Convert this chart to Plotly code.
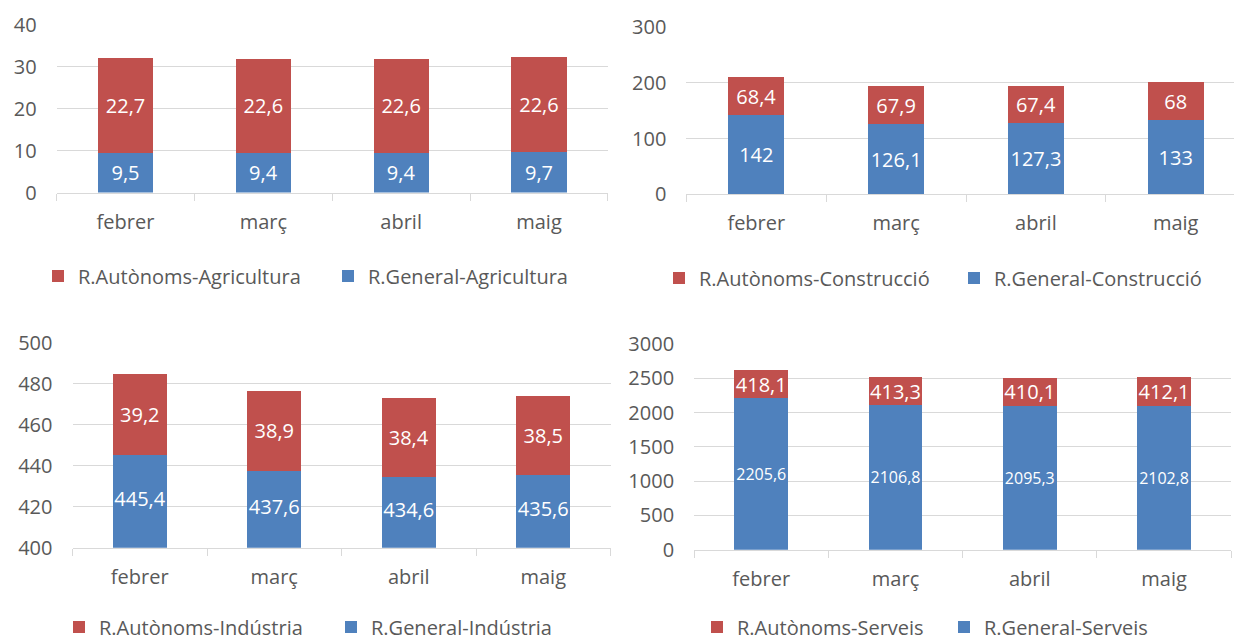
import plotly.graph_objects as go

months = ["febrer", "març", "abril", "maig"]

agr_gen = [9.5, 9.4, 9.4, 9.7]
agr_aut = [22.7, 22.6, 22.6, 22.6]
con_gen = [142, 126.1, 127.3, 133]
con_aut = [68.4, 67.9, 67.4, 68]
ind_gen = [445.4, 437.6, 434.6, 435.6]
ind_aut = [39.2, 38.9, 38.4, 38.5]
ser_gen = [2205.6, 2106.8, 2095.3, 2102.8]
ser_aut = [418.1, 413.3, 410.1, 412.1]

names = [
    ("R.General-Agricultura", "R.Autònoms-Agricultura"),
    ("R.General-Construcció", "R.Autònoms-Construcció"),
    ("R.General-Indústria", "R.Autònoms-Indústria"),
    ("R.General-Serveis", "R.Autònoms-Serveis"),
]

BLUE = "#4F81BD"
RED = "#C0504D"
GREY = "#595959"
GRID = "#D9D9D9"
FONT = "Open Sans"


def fmt(v):
    return f"{v:g}".replace(".", ",")


fig = go.Figure()

panels = [
    (agr_gen, agr_aut, "x", "y", "legend", 20),
    (con_gen, con_aut, "x2", "y2", "legend2", 20),
    (ind_gen, ind_aut, "x3", "y3", "legend3", 20),
    (ser_gen, ser_aut, "x4", "y4", "legend4", 16),
]

for i, (gen, aut, xa, ya, lg, gsize) in enumerate(panels):
    gname, aname = names[i]
    gen_text = [fmt(v) for v in gen] if i != 2 else None
    fig.add_trace(go.Bar(
        x=months, y=gen, name=gname, marker_color=BLUE,
        marker_line_width=0, xaxis=xa, yaxis=ya, legend=lg,
        text=gen_text, textposition="inside" if gen_text else "none",
        insidetextanchor="middle", textangle=0, constraintext="none",
        textfont=dict(color="white", size=gsize, family=FONT),
        hoverinfo="skip",
    ))
    fig.add_trace(go.Bar(
        x=months, y=aut, name=aname, marker_color=RED,
        marker_line_width=0, xaxis=xa, yaxis=ya, legend=lg,
        text=[fmt(v) for v in aut], textposition="inside",
        insidetextanchor="middle", textangle=0, constraintext="none",
        textfont=dict(color="white", size=20, family=FONT),
        hoverinfo="skip",
    ))

# Indústria axis starts at 400: centre the blue labels in the visible part
IND_MIN = 400
fig.add_trace(go.Scatter(
    x=months, y=[(IND_MIN + v) / 2 for v in ind_gen],
    text=[fmt(v) for v in ind_gen], mode="text",
    textfont=dict(color="white", size=20, family=FONT),
    xaxis="x3", yaxis="y3", showlegend=False, hoverinfo="skip",
))

W, H = 1234, 642


def xd(a, b):
    return [a / W, b / W]


def yd(bottom, top):
    return [1 - bottom / H, 1 - top / H]


xaxis_common = dict(
    showgrid=False, showline=True, linecolor=GRID, linewidth=1,
    ticks="outside", tickson="boundaries", ticklen=7, tickcolor=GRID,
    tickfont=dict(size=20, color=GREY, family=FONT),
    ticklabelstandoff=11, fixedrange=True, automargin=False,
)
yaxis_common = dict(
    showgrid=True, gridcolor=GRID, gridwidth=1, zeroline=False,
    showline=False, ticks="",
    tickfont=dict(size=20, color=GREY, family=FONT),
    ticklabelstandoff=19, fixedrange=True, automargin=False,
)

layout = dict(
    width=W, height=H, margin=dict(l=0, r=0, t=0, b=0, autoexpand=False),
    paper_bgcolor="white", plot_bgcolor="white",
    barmode="stack", bargap=0.6,
    font=dict(family=FONT, color=GREY),
)

layout["xaxis"] = dict(xaxis_common, domain=xd(56.6, 607.9), anchor="y", range=[-0.5, 3.5])
layout["yaxis"] = dict(yaxis_common, domain=yd(192.5, 25), anchor="x", range=[0, 40], dtick=10)
layout["xaxis2"] = dict(xaxis_common, domain=xd(686.4, 1234), anchor="y2",
                        range=[-0.5, -0.5 + (1234 - 686.4) / 139.8])
layout["yaxis2"] = dict(yaxis_common, domain=yd(194.3, 27.3), anchor="x2", range=[0, 300], dtick=100)
layout["xaxis3"] = dict(xaxis_common, domain=xd(72.5, 610.5), anchor="y3", range=[-0.5, 3.5])
layout["yaxis3"] = dict(yaxis_common, domain=yd(547.7, 342.7), anchor="x3", range=[400, 500], dtick=20)
layout["xaxis4"] = dict(xaxis_common, domain=xd(694.1, 1231.2), anchor="y4", range=[-0.5, 3.5])
layout["yaxis4"] = dict(yaxis_common, domain=yd(549.7, 344), anchor="x4", range=[0, 3000], dtick=500)

leg_common = dict(
    orientation="h", traceorder="reversed", xanchor="left", yanchor="middle",
    font=dict(size=20, color=GREY, family=FONT), bgcolor="rgba(0,0,0,0)",
    itemclick=False, itemdoubleclick=False, entrywidthmode="pixels",
)
legend_specs = [("legend", 79, 276, 291), ("legend2", 700, 278, 296),
                ("legend3", 100, 627, 273), ("legend4", 738, 627, 248)]
for key, tx, ty, step in legend_specs:
    layout[key] = dict(leg_common, x=(tx - 41) / W, y=1 - ty / H, entrywidth=step - 46)

fig.update_layout(**layout)
fig.write_html("out.html", post_script="document.body.style.margin='0';",
               config={"displayModeBar": False, "staticPlot": False})
